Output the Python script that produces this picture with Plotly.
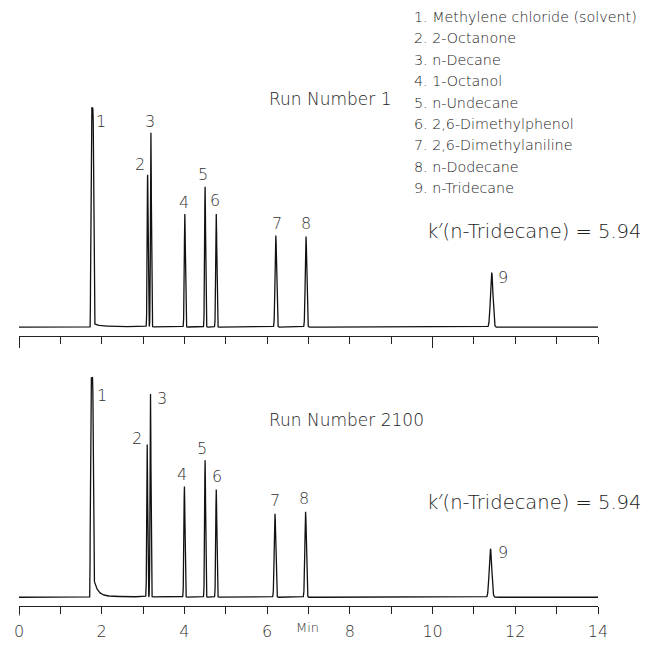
import numpy as np
import plotly.graph_objects as go

# ---------------- data ----------------
peak_ids = ["1", "2", "3", "4", "5", "6", "7", "8", "9"]
compounds = [
    "Methylene chloride (solvent)",
    "2-Octanone",
    "n-Decane",
    "1-Octanol",
    "n-Undecane",
    "2,6-Dimethylphenol",
    "2,6-Dimethylaniline",
    "n-Dodecane",
    "n-Tridecane",
]
# retention times (min) and peak heights (arbitrary detector units)
rt_run1 = [1.77, 3.11, 3.19, 4.01, 4.50, 4.77, 6.21, 6.94, 11.43]
h_run1 = [225, 156, 199, 116, 144, 116, 94, 93, 56]
rt_run2100 = [1.76, 3.10, 3.18, 4.00, 4.50, 4.77, 6.19, 6.93, 11.40]
h_run2100 = [226, 157, 209, 114, 141, 111, 86, 88, 50]
# peak sigma (min)
peak_sigma = [0.034, 0.011, 0.011, 0.013, 0.012, 0.013, 0.018, 0.018, 0.030]
# solvent tailing: amplitude and decay time (min)
tail_amp_run1 = 4
tail_tau_run1 = 0.08
tail_amp_run2100 = 30
tail_tau_run2100 = 0.09
k_prime = "5.94"
run_titles = ["Run Number 1", "Run Number 2100"]
x_ticks = [0, 2, 4, 6, 8, 10, 12, 14]

# label offsets in px (style)
lab_dx_run1 = [9, -8, -1, -1, -2, -1, 1, 0, 11]
lab_dy_run1 = [-14, 11, 12, 12, 12, 14, 12, 13, -5]
lab_dx_run2100 = [10, -10, 11, -2, -3, 1, 0, -2, 13]
lab_dy_run2100 = [-18, 6, -4, 12, 12, 13, 13, 13, -4]

t = np.arange(0, 14.0005, 0.002)


def chromatogram(rts, hs, sig, tail_amp, tail_tau):
    y = np.zeros_like(t)
    for i, (r, h, s) in enumerate(zip(rts, hs, sig)):
        if i == 0:
            y += h * np.exp(-0.5 * np.abs((t - r) / s) ** 6)
        else:
            y += h * np.exp(-0.5 * ((t - r) / s) ** 2)
    r0 = rts[0]
    mask = t > r0
    tail = np.zeros_like(t)
    tail[mask] = tail_amp * np.exp(-(t[mask] - r0) / tail_tau) + 1.5 * np.exp(-(t[mask] - r0) / 1.0)
    onset = 1 / (1 + np.exp(-(t - r0 - 0.03) / 0.005))
    y += tail * onset
    return y


y1 = chromatogram(rt_run1, h_run1, peak_sigma, tail_amp_run1, tail_tau_run1)
y2 = chromatogram(rt_run2100, h_run2100, peak_sigma, tail_amp_run2100, tail_tau_run2100)

fig = go.Figure()
fig.add_trace(go.Scatter(x=t, y=y1, mode="lines", line=dict(color="#111", width=1.3),
                         xaxis="x", yaxis="y", showlegend=False, hoverinfo="skip"))
fig.add_trace(go.Scatter(x=t, y=y2, mode="lines", line=dict(color="#111", width=1.3),
                         xaxis="x2", yaxis="y2", showlegend=False, hoverinfo="skip"))

# the page has an 8px body margin; the figure is sized so page = 652 x 655,
# and all placements below are given in page pixels.
OFF = 8
W, H = 652 - OFF, 655 - 2 * OFF
ML, MR, MT = 14 - OFF, 54, 100 - OFF
AXIS_BOTTOM = 619  # page px of bottom axis line
MB = H - (AXIS_BOTTOM - OFF)
pw = W - ML - MR
ph = H - MT - MB


def px_x(px):
    return (px - OFF - ML) / pw


def px_y(py):
    return (H - MB - (py - OFF)) / ph


top_dom = [px_y(342), 1]
bot_dom = [0, px_y(378)]

FONT = "'DejaVu Sans', 'Open Sans', sans-serif"
TXT = "#222"
WT = 200

common_x = dict(range=[0, 14], showline=True, linecolor="#222", linewidth=1.3,
                showgrid=False, zeroline=False, ticks="outside", tickcolor="#222",
                tickwidth=1.2, fixedrange=True)

fig.update_layout(
    width=W, height=H,
    margin=dict(l=ML, r=MR, t=MT, b=MB),
    paper_bgcolor="white", plot_bgcolor="white",
    xaxis=dict(**common_x, anchor="y", tickvals=[0, 10], ticklen=11, showticklabels=False,
               minor=dict(dtick=1, ticklen=7, ticks="outside", tickcolor="#222", tickwidth=1.2)),
    yaxis=dict(domain=top_dom, range=[-9, 233], visible=False, fixedrange=True),
    xaxis2=dict(**common_x, anchor="y2", tickvals=x_ticks, ticktext=[str(v) for v in x_ticks],
                ticklen=7, ticklabelstandoff=4,
                tickfont=dict(family=FONT, size=16, color="#333", weight=WT),
                minor=dict(dtick=1, ticklen=7, ticks="outside", tickcolor="#222", tickwidth=1.2)),
    yaxis2=dict(domain=bot_dom, range=[-9, 233], visible=False, fixedrange=True),
    font=dict(family=FONT, color=TXT),
)

# longer origin tick on the bottom axis
fig.add_shape(type="line", xref="x2", yref="paper", x0=0, x1=0,
              y0=px_y(AXIS_BOTTOM), y1=px_y(AXIS_BOTTOM + 10),
              line=dict(color="#222", width=1.2))

ann = []

# compound list
for i, (pid, name) in enumerate(zip(peak_ids, compounds)):
    ann.append(dict(text=f"{pid}. {name}", x=px_x(410), y=px_y(15 + 21.9 * i),
                    xref="paper", yref="paper", xanchor="left", yanchor="middle",
                    showarrow=False, font=dict(family=FONT, size=14.3, color=TXT, weight=WT)))

# run titles and k'
ann.append(dict(text=run_titles[0], x=px_x(264), y=px_y(99), xref="paper", yref="paper",
                xanchor="left", yanchor="middle", showarrow=False,
                font=dict(family=FONT, size=17, color=TXT, weight=WT)))
ann.append(dict(text=run_titles[1], x=px_x(264), y=px_y(428), xref="paper", yref="paper",
                xanchor="left", yanchor="middle", showarrow=False,
                font=dict(family=FONT, size=17, color=TXT, weight=WT)))
for py in (235, 513):
    ann.append(dict(text=f"k\u2032(n-Tridecane) = {k_prime}", x=px_x(424), y=px_y(py),
                    xref="paper", yref="paper", xanchor="left", yanchor="middle",
                    showarrow=False, font=dict(family=FONT, size=19.5, color=TXT, weight=WT)))

# peak labels
for rts, hs, dxs, dys, xr, yr in (
    (rt_run1, h_run1, lab_dx_run1, lab_dy_run1, "x", "y"),
    (rt_run2100, h_run2100, lab_dx_run2100, lab_dy_run2100, "x2", "y2"),
):
    for pid, r, h, dx, dy in zip(peak_ids, rts, hs, dxs, dys):
        ann.append(dict(text=pid, x=r, y=h, xref=xr, yref=yr, xshift=dx, yshift=dy,
                        xanchor="center", yanchor="middle", showarrow=False,
                        font=dict(family=FONT, size=16, color="#333", weight=WT)))

# axis title "Min"
ann.append(dict(text="Min", x=6.98, y=px_y(641), xref="x2", yref="paper",
                xanchor="center", yanchor="middle", showarrow=False,
                font=dict(family=FONT, size=13, color="#333", weight=WT)))

fig.update_layout(annotations=ann)
fig.write_html("out.html", config={"displayModeBar": False})
